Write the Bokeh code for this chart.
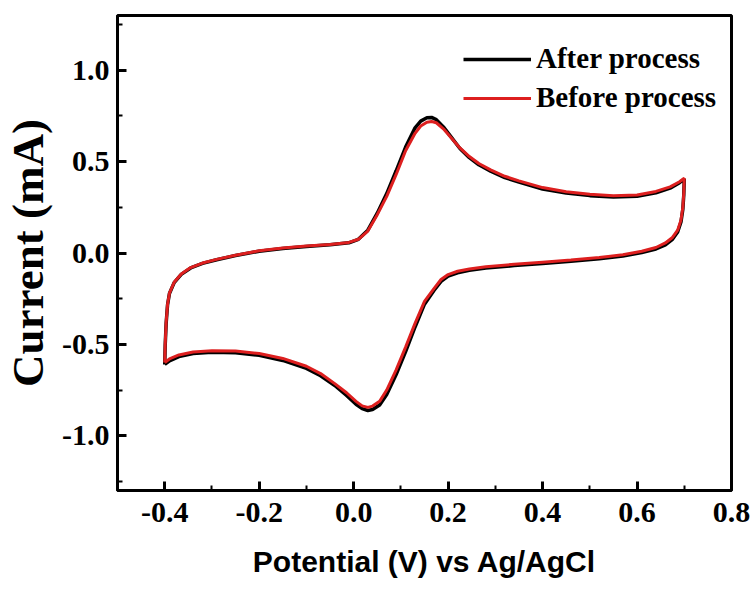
from bokeh.plotting import figure
from bokeh.models import FixedTicker, Legend, LegendItem, Range1d, PrintfTickFormatter
from bokeh.embed import file_html
from bokeh.resources import INLINE

# Potential (V vs Ag/AgCl): forward sweep then reverse sweep
potential_forward = [-0.400, -0.399, -0.397, -0.394, -0.390, -0.380, -0.365, -0.345, -0.320, -0.290,
                     -0.250, -0.200, -0.150, -0.100, -0.050, -0.010, 0.010, 0.030, 0.050, 0.070,
                     0.090, 0.110, 0.130, 0.142, 0.155, 0.165, 0.175, 0.190, 0.205, 0.225,
                     0.245, 0.265, 0.290, 0.320, 0.350, 0.400, 0.450, 0.500, 0.550, 0.600,
                     0.640, 0.670, 0.690, 0.700]
potential_reverse = [0.700, 0.699, 0.697, 0.693, 0.686, 0.675, 0.660, 0.640, 0.610, 0.570,
                     0.520, 0.460, 0.400, 0.340, 0.280, 0.245, 0.220, 0.200, 0.185, 0.170,
                     0.150, 0.130, 0.110, 0.090, 0.070, 0.055, 0.040, 0.030, 0.018, 0.005,
                     -0.015, -0.040, -0.070, -0.100, -0.150, -0.200, -0.250, -0.300, -0.340, -0.370,
                     -0.390, -0.400]

# Current (mA), "Before process"
before_forward = [-0.600, -0.500, -0.380, -0.280, -0.220, -0.160, -0.115, -0.080, -0.055, -0.035,
                  -0.012, 0.012, 0.027, 0.038, 0.047, 0.058, 0.075, 0.120, 0.210, 0.310,
                  0.430, 0.560, 0.655, 0.695, 0.716, 0.720, 0.713, 0.680, 0.635, 0.575,
                  0.528, 0.490, 0.455, 0.420, 0.395, 0.358, 0.335, 0.321, 0.314, 0.318,
                  0.337, 0.362, 0.390, 0.410]
before_reverse = [0.410, 0.330, 0.250, 0.180, 0.125, 0.085, 0.055, 0.030, 0.010, -0.010,
                  -0.025, -0.038, -0.050, -0.062, -0.075, -0.088, -0.100, -0.118, -0.145, -0.195,
                  -0.265, -0.385, -0.515, -0.640, -0.750, -0.812, -0.838, -0.845, -0.837, -0.812,
                  -0.765, -0.715, -0.660, -0.620, -0.577, -0.550, -0.537, -0.535, -0.542, -0.558,
                  -0.580, -0.600]

# Current (mA), "After process"
after_forward = [-0.610, -0.505, -0.385, -0.283, -0.222, -0.162, -0.117, -0.082, -0.057, -0.037,
                 -0.014, 0.010, 0.025, 0.036, 0.045, 0.056, 0.075, 0.125, 0.218, 0.325,
                 0.450, 0.580, 0.685, 0.722, 0.740, 0.742, 0.730, 0.690, 0.640, 0.572,
                 0.522, 0.483, 0.448, 0.413, 0.388, 0.350, 0.328, 0.314, 0.307, 0.311,
                 0.330, 0.355, 0.385, 0.405]
after_reverse = [0.405, 0.320, 0.240, 0.170, 0.115, 0.075, 0.045, 0.022, 0.003, -0.017,
                 -0.032, -0.045, -0.057, -0.069, -0.082, -0.095, -0.108, -0.126, -0.155, -0.205,
                 -0.280, -0.405, -0.540, -0.665, -0.775, -0.832, -0.857, -0.862, -0.852, -0.828,
                 -0.780, -0.725, -0.672, -0.632, -0.588, -0.560, -0.546, -0.543, -0.550, -0.567,
                 -0.590, -0.610]

x_major = [-0.4, -0.2, 0.0, 0.2, 0.4, 0.6, 0.8]
x_minor = [-0.5, -0.3, -0.1, 0.1, 0.3, 0.5, 0.7]
y_major = [-1.0, -0.5, 0.0, 0.5, 1.0]
y_minor = [-1.25, -0.75, -0.25, 0.25, 0.75, 1.25]

potential = potential_forward + potential_reverse
before = before_forward + before_reverse
after = after_forward + after_reverse

p = figure(width=751, height=590, x_range=Range1d(-0.5, 0.8), y_range=Range1d(-1.3, 1.3),
           output_backend="svg", toolbar_location=None,
           min_border_left=116, min_border_right=20, min_border_top=15, min_border_bottom=100)
p.grid.visible = False
p.outline_line_color = "black"
p.outline_line_width = 3
p.background_fill_color = "white"
p.border_fill_color = "white"

r_after = p.line(potential, after, line_color="black", line_width=3.5)
r_before = p.line(potential, before, line_color="#dd1f1f", line_width=3)

p.xaxis.ticker = FixedTicker(ticks=x_major, minor_ticks=x_minor)
p.yaxis.ticker = FixedTicker(ticks=y_major, minor_ticks=y_minor)
for ax in (p.xaxis, p.yaxis):
    ax.formatter = PrintfTickFormatter(format="%.1f")
    ax.axis_line_width = 3
    ax.axis_line_color = "black"
    ax.major_tick_in = 9
    ax.major_tick_out = 0
    ax.minor_tick_in = 5
    ax.minor_tick_out = 0
    ax.major_tick_line_width = 3
    ax.minor_tick_line_width = 2
    ax.major_label_text_font = "Liberation Serif"
    ax.major_label_text_font_style = "bold"
    ax.major_label_text_font_size = "30px"
    ax.major_label_text_color = "black"
    ax.axis_label_text_color = "black"
    ax.axis_label_text_font_style = "bold"

p.xaxis.major_label_standoff = 12
p.yaxis.major_label_standoff = 8
p.xaxis.axis_label = "Potential (V) vs Ag/AgCl"
p.xaxis.axis_label_text_font = "Liberation Sans"
p.xaxis.axis_label_text_font_size = "30px"
p.xaxis.axis_label_standoff = 20
p.yaxis.axis_label = "Current (mA)"
p.yaxis.axis_label_text_font = "Liberation Serif"
p.yaxis.axis_label_text_font_size = "45px"
p.yaxis.axis_label_standoff = 6

legend = Legend(items=[LegendItem(label="After process", renderers=[r_after]),
                       LegendItem(label="Before process", renderers=[r_before])],
                location=(346, 376), glyph_width=68, glyph_height=30, label_height=30,
                spacing=6, padding=0, margin=0, label_standoff=5,
                border_line_color=None, background_fill_alpha=0,
                label_text_font="Liberation Serif", label_text_font_style="bold",
                label_text_font_size="29px", label_text_color="black")
p.add_layout(legend)

open("out.html", "w").write(file_html(p, INLINE))
